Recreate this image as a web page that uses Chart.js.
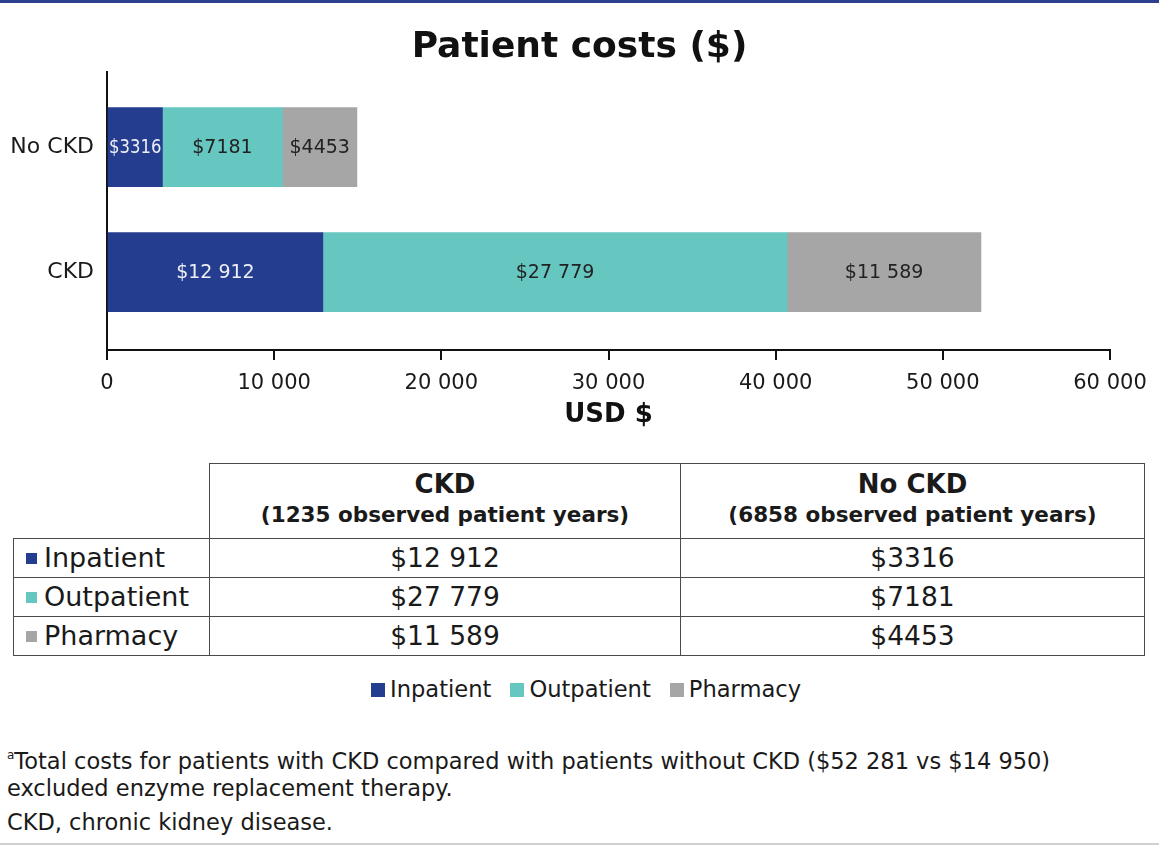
<!DOCTYPE html>
<html>
<head>
<meta charset="utf-8">
<script src="https://cdn.jsdelivr.net/npm/chart.js@4.4.1/dist/chart.umd.min.js"></script>
<style>
  html, body { margin: 0; padding: 0; background: #fff; overflow: hidden; }
  body { width: 1159px; height: 846px; position: relative; font-family: "DejaVu Sans", Verdana, sans-serif; color: #1a1a1a; }
  #topline { position: absolute; left: 0; top: 0; width: 1159px; height: 3px; background: #2e3f8f; }
  #wrap { position: absolute; left: 0; top: 3px; width: 1159px; height: 430px; }
  #costTable { position: absolute; left: 13px; top: 463px; border-collapse: collapse; table-layout: fixed; }
  #costTable td, #costTable th { border: 1px solid #4a4a4a; padding: 0; }
  #costTable th { font-weight: bold; text-align: center; height: 74px; }
  #costTable th .main { font-size: 26px; line-height: 30px; margin-top: -2px; }
  #costTable th .sub { font-size: 21.5px; line-height: 32px; }
  #costTable th.blank { border-top: none; border-left: none; }
  #costTable td { font-size: 26.5px; height: 38px; line-height: 38px; text-align: center; }
  #costTable td.rowname { text-align: left; padding-left: 12px; font-size: 27px; }
  .sw { display: inline-block; width: 11px; height: 11px; margin-right: 7px; vertical-align: 3px; }
  #legend { position: absolute; left: 371px; top: 676px; font-size: 22.6px; white-space: nowrap; }
  #legend span.item { margin-right: 19px; }
  #legend .lsw { display: inline-block; width: 14px; height: 14px; margin-right: 5px; vertical-align: 0px; }
  #notes { position: absolute; left: 7px; top: 748px; font-size: 22.5px; line-height: 27px; }
  #notes p { margin: 0; }
  #notes p.last { margin-top: 7px; }
  #notes sup { font-size: 12px; vertical-align: 10px; line-height: 0; }
  #bottomline { position: absolute; left: 0; top: 843px; width: 1159px; height: 2px; background: #d0d0d0; }
</style>
</head>
<body>
<div id="topline"></div>
<div id="wrap"><canvas id="myChart"></canvas></div>
<table id="costTable"></table>
<div id="legend"></div>
<div id="notes">
  <p><sup>a</sup>Total costs for patients with CKD compared with patients without CKD ($52 281 vs $14 950)<br>excluded enzyme replacement therapy.</p>
  <p class="last">CKD, chronic kidney disease.</p>
</div>
<div id="bottomline"></div>

<script>
// chart data
var categories = ['No CKD', 'CKD'];
var patientYears = [6858, 1235];
var seriesNames = ['Inpatient', 'Outpatient', 'Pharmacy'];
var seriesColors = ['#253d8f', '#66c6c0', '#a6a6a6'];
var inpatient = [3316, 12912];
var outpatient = [7181, 27779];
var pharmacy = [4453, 11589];
var xTicks = [0, 10000, 20000, 30000, 40000, 50000, 60000];

var seriesValues = [inpatient, outpatient, pharmacy];

function groupNum(v) {
    return String(v).replace(/\B(?=(\d{3})+(?!\d))/g, ' ');
}
function money(v) {
    return '$' + (v >= 10000 ? groupNum(v) : String(v));
}

document.addEventListener("DOMContentLoaded", function () {

    var FONT = '"DejaVu Sans", Verdana, sans-serif';

    // labels drawn in the middle of each bar segment
    var barLabels = {
        id: 'barLabels',
        afterDatasetsDraw: function (chart) {
            var ctx = chart.ctx;
            ctx.save();
            ctx.font = '19px ' + FONT;
            ctx.textAlign = 'center';
            ctx.textBaseline = 'middle';
            chart.data.datasets.forEach(function (ds, di) {
                var meta = chart.getDatasetMeta(di);
                meta.data.forEach(function (bar, i) {
                    var w = Math.abs(bar.x - bar.base);
                    ctx.fillStyle = di === 0 ? '#eef0f6' : '#222';
                    ctx.fillText(money(seriesValues[di][i]), (bar.x + bar.base) / 2, bar.y + 1, w - 2);
                });
            });
            ctx.restore();
        }
    };

    var ctx = document.getElementById('myChart').getContext('2d');
    var chart = new Chart(ctx, {
        type: 'bar',
        data: {
            datasets: seriesNames.map(function (name, k) {
                return {
                    label: name,
                    backgroundColor: seriesColors[k],
                    borderWidth: 0,
                    barThickness: 79,
                    data: seriesValues[k].map(function (v, i) { return { x: v, y: i }; })
                };
            })
        },
        options: {
            indexAxis: 'y',
            responsive: true,
            maintainAspectRatio: false,
            animation: false,
            layout: { padding: 0 },
            plugins: {
                legend: { display: false },
                tooltip: { enabled: false },
                title: {
                    display: true,
                    text: 'Patient costs ($)',
                    color: '#111',
                    font: { family: FONT, size: 36, weight: 'bold' },
                    padding: { top: 23, bottom: 3 }
                }
            },
            scales: {
                x: {
                    type: 'linear',
                    stacked: true,
                    min: 0,
                    max: 60000,
                    afterBuildTicks: function (scale) {
                        scale.ticks = xTicks.map(function (v) { return { value: v }; });
                    },
                    afterFit: function (scale) {
                        scale.height = 83;
                        scale.paddingRight = 49;
                    },
                    ticks: {
                        color: '#1a1a1a',
                        font: { family: FONT, size: 21 },
                        padding: 11,
                        maxRotation: 0,
                        callback: function (v) { return groupNum(v); }
                    },
                    grid: {
                        drawOnChartArea: false,
                        drawTicks: true,
                        tickLength: 10,
                        color: '#111',
                        lineWidth: 2
                    },
                    border: { display: true, color: '#111', width: 2 },
                    title: {
                        display: true,
                        text: 'USD $',
                        color: '#111',
                        font: { family: FONT, size: 26, weight: 'bold' },
                        padding: { top: 4, bottom: 2 }
                    }
                },
                y: {
                    type: 'linear',
                    stacked: true,
                    reverse: true,
                    offset: false,
                    min: -0.6,
                    max: 1.624,
                    afterBuildTicks: function (scale) {
                        scale.ticks = categories.map(function (c, i) { return { value: i }; });
                    },
                    afterFit: function (scale) { scale.width = 107; },
                    ticks: {
                        color: '#1a1a1a',
                        font: { family: FONT, size: 22 },
                        padding: 13,
                        callback: function (v) { return categories[v]; }
                    },
                    grid: { display: false, drawTicks: false },
                    border: { display: true, color: '#111', width: 2 }
                }
            }
        },
        plugins: [barLabels]
    });

    // table below the chart
    var table = document.getElementById('costTable');
    var html = '<colgroup><col style="width:196px"><col style="width:471px"><col style="width:464px"></colgroup>';
    html += '<tr><th class="blank"></th>';
    [1, 0].forEach(function (ci) {
        html += '<th><div class="main">' + categories[ci] + '</div><div class="sub">(' +
            patientYears[ci] + ' observed patient years)</div></th>';
    });
    html += '</tr>';
    seriesNames.forEach(function (name, k) {
        html += '<tr><td class="rowname"><span class="sw" style="background:' + seriesColors[k] + '"></span>' + name + '</td>';
        [1, 0].forEach(function (ci) {
            html += '<td>' + money(seriesValues[k][ci]) + '</td>';
        });
        html += '</tr>';
    });
    table.innerHTML = html;

    // legend
    var legend = document.getElementById('legend');
    legend.innerHTML = seriesNames.map(function (name, k) {
        return '<span class="item"><span class="lsw" style="background:' + seriesColors[k] + '"></span>' + name + '</span>';
    }).join('');
});
</script>
</body>
</html>
